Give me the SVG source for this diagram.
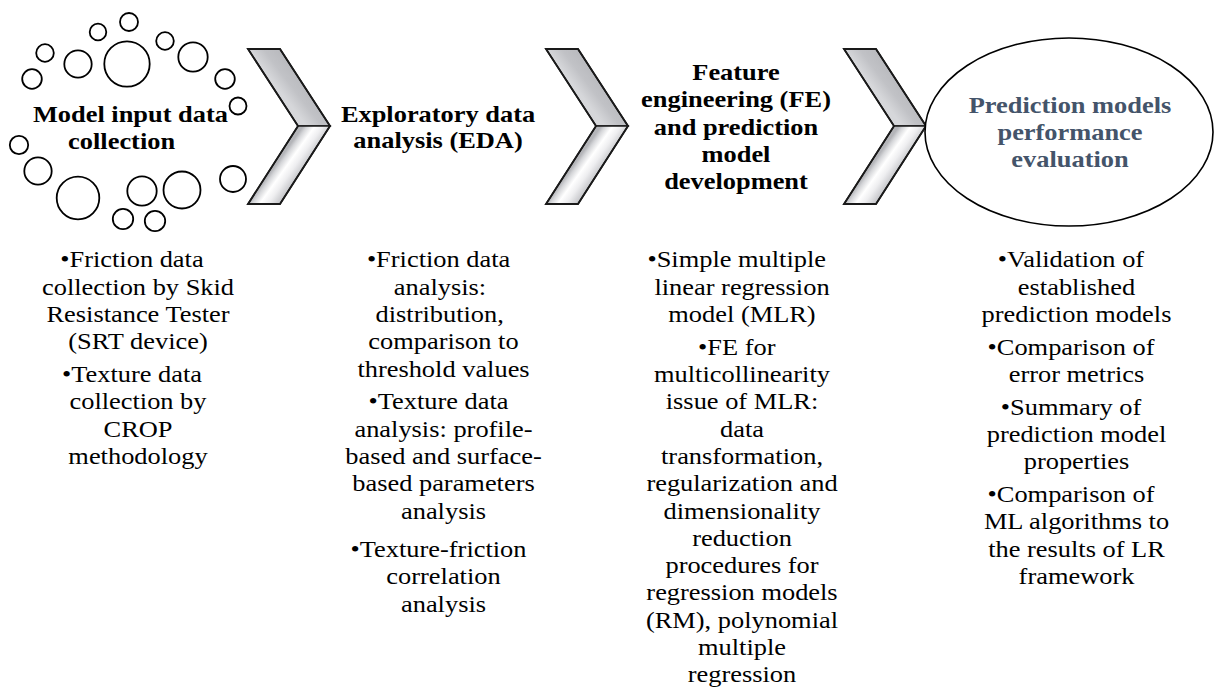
<svg xmlns="http://www.w3.org/2000/svg" width="1215" height="690" viewBox="0 0 1215 690">
<style>
.ttl{font-family:"Liberation Serif","Times New Roman",serif;font-weight:bold;font-size:24px;fill:#000;text-anchor:middle}
.ttl4{fill:#44546a}
.txt{font-family:"Liberation Serif","Times New Roman",serif;font-size:24px;fill:#000;text-anchor:middle}
.bub{fill:#fff;stroke:#000;stroke-width:1.8}
.chev{stroke:#1a1a1a;stroke-width:1.6;stroke-linejoin:miter}
</style>
<defs>
<linearGradient id="gUp" x1="0" y1="0" x2="0.35" y2="-0.25">
<stop offset="0" stop-color="#d6d7da"/>
<stop offset="0.35" stop-color="#c1c2c6"/>
<stop offset="1" stop-color="#b3b4b8"/>
</linearGradient>
<linearGradient id="gLow" x1="0" y1="1" x2="0.277" y2="1.187">
<stop offset="0" stop-color="#b4b5b9"/>
<stop offset="0.12" stop-color="#d5d6d9"/>
<stop offset="0.35" stop-color="#ffffff"/>
<stop offset="0.6" stop-color="#eeeef0"/>
<stop offset="1" stop-color="#bdbec2"/>
</linearGradient>
<g id="chevShape">
<path class="chev" d="M0,0 L32,0 L82,77 L50,77 Z" fill="url(#gUp)"/>
<path class="chev" d="M50,77 L82,77 L32,155 L0,155 Z" fill="url(#gLow)"/>
<path d="M0,0 L32,0 L82,77 L32,155 L0,155 L50,77 Z" fill="none" stroke="#1a1a1a" stroke-width="1.8" stroke-linejoin="miter"/>
</g>
</defs>
<rect width="1215" height="690" fill="#fff"/>

<g id="connectors">
<use href="#chevShape" transform="translate(248,49)"/>
<use href="#chevShape" transform="translate(546,49)"/>
<use href="#chevShape" transform="translate(844,49)"/>
</g>

<g id="step1-data-collection">
<circle class="bub" cx="129" cy="22" r="9"/>
<circle class="bub" cx="98" cy="32" r="8.3"/>
<circle class="bub" cx="45" cy="53" r="8.8"/>
<circle class="bub" cx="78" cy="64" r="13.7"/>
<circle class="bub" cx="127" cy="64" r="22.7"/>
<circle class="bub" cx="165" cy="41" r="8.8"/>
<circle class="bub" cx="193" cy="57" r="14.7"/>
<circle class="bub" cx="225" cy="79" r="9.8"/>
<circle class="bub" cx="32" cy="79" r="9.8"/>
<circle class="bub" cx="238" cy="106" r="8.5"/>
<circle class="bub" cx="19" cy="145" r="9.2"/>
<circle class="bub" cx="38" cy="171" r="13.7"/>
<circle class="bub" cx="78" cy="198" r="21.3"/>
<circle class="bub" cx="142" cy="191" r="14.7"/>
<circle class="bub" cx="123" cy="219" r="10.2"/>
<circle class="bub" cx="155" cy="221" r="10.2"/>
<circle class="bub" cx="182" cy="190" r="18.5"/>
<circle class="bub" cx="233" cy="179" r="13"/>
<text class="ttl" transform="matrix(1.1 0 0 1 126 0)"><tspan x="4" y="122">Model input data</tspan><tspan x="-4" y="149">collection</tspan></text>
</g>

<g id="step2-eda">
<text class="ttl" transform="matrix(1.1 0 0 1 438 0)"><tspan x="0" y="121.7">Exploratory data</tspan><tspan x="0" y="148.3">analysis (EDA)</tspan></text>
</g>

<g id="step3-fe">
<text class="ttl" transform="matrix(1.1 0 0 1 736 0)"><tspan x="0" y="80">Feature</tspan><tspan x="0" y="107.3">engineering (FE)</tspan><tspan x="0" y="134.6">and prediction</tspan><tspan x="0" y="162">model</tspan><tspan x="0" y="189.3">development</tspan></text>
</g>

<g id="step4-evaluation">
<ellipse cx="1069" cy="132" rx="144" ry="94" fill="#fff" stroke="#000" stroke-width="1.6"/>
<text class="ttl ttl4" transform="matrix(1.1 0 0 1 1070 0)"><tspan x="0" y="112.7">Prediction models</tspan><tspan x="0" y="140">performance</tspan><tspan x="0" y="167.3">evaluation</tspan></text>
</g>

<g id="details1">
<text class="txt" transform="matrix(1.1 0 0 1 138 0)"><tspan x="-5.5" y="267.5">•Friction data</tspan><tspan x="0" y="294.8">collection by Skid</tspan><tspan x="0" y="322.1">Resistance Tester</tspan><tspan x="0" y="349.4">(SRT device)</tspan><tspan x="-5.5" y="382.1">•Texture data</tspan><tspan x="0" y="409.4">collection by</tspan><tspan x="0" y="436.7">CROP</tspan><tspan x="0" y="464">methodology</tspan></text>
</g>

<g id="details2">
<text class="txt" transform="matrix(1.1 0 0 1 443.5 0)"><tspan x="-4.5" y="267.5">•Friction data</tspan><tspan x="-3.2" y="294.8">analysis:</tspan><tspan x="-3.5" y="322.1">distribution,</tspan><tspan x="0" y="349.4">comparison to</tspan><tspan x="0" y="376.7">threshold values</tspan><tspan x="-4.5" y="409.4">•Texture data</tspan><tspan x="0" y="436.7">analysis: profile-</tspan><tspan x="0" y="464">based and surface-</tspan><tspan x="0" y="491.3">based parameters</tspan><tspan x="0" y="518.6">analysis</tspan><tspan x="-4.5" y="557">•Texture-friction</tspan><tspan x="0" y="584.3">correlation</tspan><tspan x="0" y="611.6">analysis</tspan></text>
</g>

<g id="details3">
<text class="txt" transform="matrix(1.1 0 0 1 742 0)"><tspan x="-4.8" y="267.5">•Simple multiple</tspan><tspan x="0" y="294.8">linear regression</tspan><tspan x="0" y="322.1">model (MLR)</tspan><tspan x="-4.8" y="354.8">•FE for</tspan><tspan x="0" y="382.1">multicollinearity</tspan><tspan x="0" y="409.4">issue of MLR:</tspan><tspan x="0" y="436.7">data</tspan><tspan x="0" y="464">transformation,</tspan><tspan x="0" y="491.3">regularization and</tspan><tspan x="0" y="518.6">dimensionality</tspan><tspan x="0" y="545.9">reduction</tspan><tspan x="0" y="573.2">procedures for</tspan><tspan x="0" y="600.5">regression models</tspan><tspan x="0" y="627.8">(RM), polynomial</tspan><tspan x="0" y="655.1">multiple</tspan><tspan x="0" y="682.4">regression</tspan></text>
</g>

<g id="details4">
<text class="txt" transform="matrix(1.1 0 0 1 1076.5 0)"><tspan x="-5" y="267.5">•Validation of</tspan><tspan x="0" y="294.8">established</tspan><tspan x="0" y="322.1">prediction models</tspan><tspan x="-5" y="354.8">•Comparison of</tspan><tspan x="0" y="382.1">error metrics</tspan><tspan x="-5" y="414.8">•Summary of</tspan><tspan x="0" y="442.1">prediction model</tspan><tspan x="0" y="469.4">properties</tspan><tspan x="-5" y="502.1">•Comparison of</tspan><tspan x="0" y="529.4">ML algorithms to</tspan><tspan x="0" y="556.7">the results of LR</tspan><tspan x="0" y="584">framework</tspan></text>
</g>
</svg>
